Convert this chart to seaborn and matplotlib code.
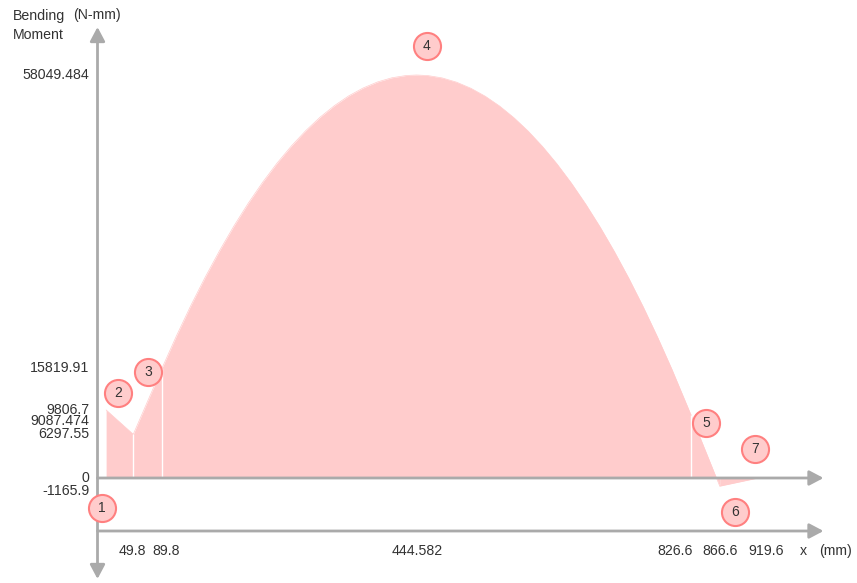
import matplotlib
matplotlib.use("Agg")
import matplotlib.pyplot as plt
from matplotlib.transforms import offset_copy
import seaborn as sns

# bending moment diagram, x in mm, moment in N-mm
seg1_x = [12.0, 49.8]
seg1_m = [9806.7, 6297.55]
seg2_x = [49.8, 89.8]
seg2_m = [6297.55, 15819.91]
seg3_x = [89.8, 110, 130, 150, 170, 190, 210, 230, 250, 270, 290, 310, 330, 350, 370,
          390, 410, 430, 444.582, 460, 480, 500, 520, 540, 560, 580, 600, 620, 640,
          660, 680, 700, 720, 740, 760, 780, 800, 826.6]
seg3_m = [15819.91, 20490, 24850, 28935, 32750, 36305, 39590, 42600, 45350, 47825,
          50030, 51975, 53640, 55050, 56180, 57050, 57650, 57980, 58049.484, 57970,
          57630, 57020, 56140, 54995, 53580, 51895, 49950, 47725, 45240, 42480,
          39450, 36160, 32600, 28770, 24670, 20300, 15670, 9087.474]
seg4_x = [826.6, 866.6]
seg4_m = [9087.474, -1165.9]
seg5_x = [866.6, 919.6]
seg5_m = [-1165.9, 0.0]

node_ids = [1, 2, 3, 4, 5, 6, 7]
node_x = [0.0, 49.8, 89.8, 444.582, 826.6, 866.6, 919.6]
node_m = [0.0, 6297.55, 15819.91, 58049.484, 9087.474, -1165.9, 0.0]

y_ticks = [58049.484, 15819.91, 9806.7, 9087.474, 6297.55, 0, -1165.9]
y_labels = ["58049.484", "15819.91", "9806.7", "9087.474", "6297.55", "0", "-1165.9"]
x_ticks = [49.8, 89.8, 444.582, 826.6, 866.6, 919.6]
x_labels = ["49.8", "89.8", "444.582", "826.6", "866.6", "919.6"]

# label placement tweaks (pixels) so neighbouring labels don't collide
y_nudge = [0, 0, 0, -6.5, 0, 0, -5]
x_nudge = [-1, 4.5, 0, -15.5, 0, 8]
node_off = [(4, -30), (-15, 41), (-14, -4), (10, 29), (15, -8), (15, -26), (-3, 29)]

W, H = 857, 583
X0, Y0 = 97.5, 478          # pixel position of the origin
SX, SY = 0.718, 0.0069424   # pixels per mm / per N-mm

FILL = "#ffcccc"
RING = "#ff8080"
AXC = "#aaaaaa"
TXT = "#333333"

sns.set_theme(style="white")
plt.rcParams["font.family"] = ["Liberation Sans", "DejaVu Sans"]
FS = 10.2


def mx(px):
    return (px - X0) / SX


def my(py):
    return (Y0 - py) / SY


fig = plt.figure(figsize=(W / 100, H / 100), dpi=100)
ax = fig.add_axes([0, 0, 1, 1])
ax.set_xlim(mx(0), mx(W))
ax.set_ylim(my(H), my(0))
ax.set_axis_off()

for xs, ms in [(seg1_x, seg1_m), (seg2_x, seg2_m), (seg3_x, seg3_m),
               (seg4_x, seg4_m), (seg5_x, seg5_m)]:
    ax.fill_between(xs, ms, 0, color=FILL, lw=0, zorder=1)
    sns.lineplot(x=xs, y=ms, ax=ax, color=FILL, lw=0.5, zorder=1)

# thin white separators between segments
for xb, mb in [(49.8, 6297.55), (89.8, 15819.91), (826.6, 9087.474)]:
    ax.vlines(xb, 0, mb, color="white", lw=1, zorder=2)

# axes with arrow heads
head = "head_length=0.85,head_width=0.45"
arrow_kw = dict(color=AXC, lw=2, shrinkA=0, shrinkB=0, mutation_scale=10)
ax.annotate("", xy=(0, my(27)), xytext=(0, my(579)),
            arrowprops=dict(arrowstyle="<|-|>," + head, **arrow_kw), zorder=3)
ax.annotate("", xy=(mx(823.5), 0), xytext=(0, 0),
            arrowprops=dict(arrowstyle="-|>," + head, **arrow_kw), zorder=3)
ax.annotate("", xy=(mx(823.5), my(531)), xytext=(0, my(531)),
            arrowprops=dict(arrowstyle="-|>," + head, **arrow_kw), zorder=3)

for v, lab, nd in zip(y_ticks, y_labels, y_nudge):
    tr = offset_copy(ax.transData, fig=fig, x=-8, y=nd, units="dots")
    ax.text(0, v, lab, transform=tr, ha="right", va="center", fontsize=FS, color=TXT)

for v, lab, nd in zip(x_ticks, x_labels, x_nudge):
    tr = offset_copy(ax.transData, fig=fig, x=nd, y=-(551 - Y0), units="dots")
    ax.text(v, 0, lab, transform=tr, ha="center", va="center", fontsize=FS, color=TXT)

# node markers
for n, x, m, (dx, dy) in zip(node_ids, node_x, node_m, node_off):
    tr = offset_copy(ax.transData, fig=fig, x=dx, y=dy, units="dots")
    ax.scatter([x], [m], s=380, color=FILL, edgecolor=RING, linewidth=1.5,
               transform=tr, zorder=5, clip_on=False)
    ax.text(x, m, str(n), transform=tr, ha="center", va="center",
            fontsize=10, color=TXT, zorder=6)

fig.text(12.7 / W, 1 - 16 / H, "Bending", ha="left", va="center", fontsize=FS, color=TXT)
fig.text(12.7 / W, 1 - 35 / H, "Moment", ha="left", va="center", fontsize=FS, color=TXT)
fig.text(72.7 / W, 1 - 15 / H, "(N-mm)", ha="left", va="center", fontsize=FS, color=TXT)
fig.text(803 / W, 1 - 551 / H, "x", ha="center", va="center", fontsize=FS, color=TXT)
fig.text(835 / W, 1 - 551 / H, "(mm)", ha="center", va="center", fontsize=FS, color=TXT)

fig.savefig("out.png", dpi=100)
